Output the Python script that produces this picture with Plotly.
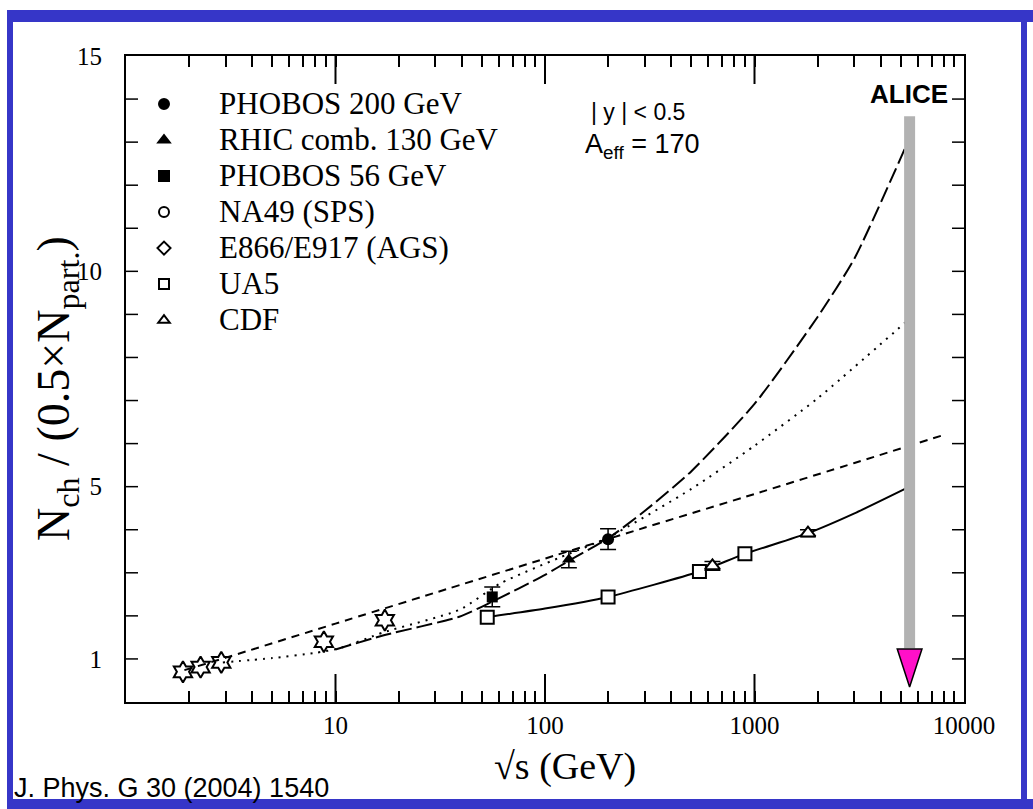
import math
import plotly.graph_objects as go

# ---- measured data -------------------------------------------------------
phobos200_x = [200]
phobos200_y = [3.78]
phobos200_err = [0.24]

rhic130_x = [130]
rhic130_y = [3.31]
rhic130_err = [0.19]

phobos56_x = [56]
phobos56_y = [2.44]
phobos56_err = [0.23]

na49_x = [8.8, 17.2]
na49_y = [1.40, 1.90]

ags_x = [1.87, 2.27, 2.85]
ags_y = [0.70, 0.81, 0.92]

ua5_x = [53, 200, 546, 900]
ua5_y = [1.97, 2.44, 3.03, 3.44]

cdf_x = [630, 1800]
cdf_y = [3.16, 3.92]
cdf_err = [0.10, 0.08]

# ---- extrapolation curves ------------------------------------------------
pp_fit_x = [53, 100, 200, 546, 900, 1800, 3000, 5500]
pp_fit_y = [1.97, 2.17, 2.44, 3.03, 3.44, 3.92, 4.38, 5.0]

log_fit_x = [1.9, 3, 10, 30, 100, 300, 1000, 3000, 8000]
log_fit_y = [0.74, 1.03, 1.82, 2.54, 3.33, 4.05, 4.83, 5.55, 6.2]

sat_fit_x = [2.9, 5, 8, 10.5, 17, 39, 61, 117, 200, 500, 1000, 2000, 5500]
sat_fit_y = [0.92, 1.02, 1.14, 1.25, 1.62, 2.14, 2.75, 3.35, 3.82, 4.95, 5.95, 7.05, 8.9]

pow_fit_x = [10, 17, 39, 56, 100, 130, 200, 300, 500, 1000, 2000, 3000, 5500]
pow_fit_y = [1.22, 1.55, 1.98, 2.33, 2.95, 3.28, 3.8, 4.44, 5.36, 6.92, 8.94, 10.3, 13.1]

alice_energy = 5500
alice_bar_y = [13.6, 1.25]
alice_tip_y = 0.35

x_tick_vals = [10, 100, 1000, 10000]
x_decade_marks = [10, 100, 1000]
x_minor_vals = [m * d for d in (1, 10, 100, 1000) for m in range(2, 10)]
y_tick_vals = [1, 5, 10, 15]
y_mark_vals = list(range(1, 15))

legend_names = ["PHOBOS 200 GeV", "RHIC comb. 130 GeV", "PHOBOS 56 GeV",
                "NA49 (SPS)", "E866/E917 (AGS)", "UA5", "CDF"]
legend_symbols = ["circle", "triangle-up", "square", "circle-open",
                  "diamond-open", "square-open", "triangle-up-open"]

# ---- figure geometry -----------------------------------------------------
W, H = 1033, 809
L, R, T, B = 126, 964, 56, 702
BLUE = "#3636c8"
SERIF = "Liberation Serif"
SANS = "Liberation Sans"
X_RANGE = [0, 4]          # log10 of 1 .. 10000
Y_RANGE = [0, 15]
MAJOR_LEN, MINOR_LEN, Y_LEN = 28, 11, 12


def px_x(p):
    return (p - L) / (R - L)


def px_y(p):
    return (B - p) / (B - T)


def x_frac(v):
    return (math.log10(v) - X_RANGE[0]) / (X_RANGE[1] - X_RANGE[0])


def y_frac(v):
    return (v - Y_RANGE[0]) / (Y_RANGE[1] - Y_RANGE[0])


fig = go.Figure()

line_style = dict(color="black", width=2, shape="spline", smoothing=0.6)
fig.add_trace(go.Scatter(x=pp_fit_x, y=pp_fit_y, mode="lines",
                         line=dict(**line_style), showlegend=False))
fig.add_trace(go.Scatter(x=log_fit_x, y=log_fit_y, mode="lines",
                         line=dict(**line_style, dash="8px,6px"), showlegend=False))
fig.add_trace(go.Scatter(x=sat_fit_x, y=sat_fit_y, mode="lines",
                         line=dict(**line_style, dash="2px,6px"), showlegend=False))
fig.add_trace(go.Scatter(x=pow_fit_x, y=pow_fit_y, mode="lines",
                         line=dict(**line_style, dash="16px,5px"), showlegend=False))

# ALICE energy marker (x2 is the tick overlay sharing the main x range)
fig.add_trace(go.Scatter(x=[alice_energy, alice_energy], y=alice_bar_y, mode="lines",
                         xaxis="x2", line=dict(color="#b2b2b2", width=11),
                         showlegend=False))
fig.add_trace(go.Scatter(x=[alice_energy], y=[alice_tip_y], mode="markers", xaxis="x2",
                         marker=dict(symbol="arrow", angle=180, size=40, color="#ff10c8",
                                     line=dict(color="black", width=1.5)),
                         showlegend=False))


def err(vals, w=16):
    return dict(type="data", array=vals, visible=True, color="black",
                thickness=1.5, width=w / 2)


data_marker_line = dict(color="black", width=2)
point_traces = [
    go.Scatter(x=ags_x, y=ags_y, mode="markers",
               marker=dict(symbol="hexagram-open", size=16, color="black",
                           line=data_marker_line)),
    go.Scatter(x=na49_x, y=na49_y, mode="markers",
               marker=dict(symbol="hexagram-open", size=16, color="black",
                           line=data_marker_line)),
    go.Scatter(x=ua5_x, y=ua5_y, mode="markers",
               marker=dict(symbol="square", size=13, color="white", line=data_marker_line)),
    go.Scatter(x=cdf_x, y=cdf_y, mode="markers", error_y=err(cdf_err),
               marker=dict(symbol="triangle-up", size=13, color="white",
                           line=data_marker_line)),
    go.Scatter(x=phobos56_x, y=phobos56_y, mode="markers", error_y=err(phobos56_err),
               marker=dict(symbol="square", size=11, color="black")),
    go.Scatter(x=rhic130_x, y=rhic130_y, mode="markers", error_y=err(rhic130_err),
               marker=dict(symbol="triangle-up", size=12, color="black")),
    go.Scatter(x=phobos200_x, y=phobos200_y, mode="markers", error_y=err(phobos200_err),
               marker=dict(symbol="circle", size=12, color="black")),
]
for tr in point_traces:
    tr.update(xaxis="x2", showlegend=False)
    fig.add_trace(tr)

# legend entries
for name, sym in zip(legend_names, legend_symbols):
    fig.add_trace(go.Scatter(x=[None], y=[None], mode="markers",
                             name=f'<span style="font-size:31px">{name}</span>',
                             marker=dict(symbol=sym, size=10, color="black",
                                         line=dict(color="black", width=2))))

base = dict(showline=True, linecolor="black", linewidth=2, showgrid=False,
            zeroline=False, tickcolor="black", tickwidth=1.5,
            tickfont=dict(family=SERIF, size=25, color="black"))

fig.update_layout(
    xaxis=dict(base, type="log", range=X_RANGE, tickmode="array", tickvals=x_tick_vals,
               ticktext=[str(v) for v in x_tick_vals], ticks="", mirror=True),
    yaxis=dict(base, range=Y_RANGE, tickmode="array", tickvals=y_tick_vals,
               ticks="", mirror=True, ticklabelstandoff=17),
    xaxis2=dict(base, type="log", range=X_RANGE, overlaying="x", anchor="y",
                side="bottom", tickmode="array",
                tickvals=sorted(x_minor_vals + x_decade_marks),
                ticks="inside", ticklen=MINOR_LEN, mirror="ticks",
                showticklabels=False),
)

# long decade ticks and the y ticks, on both sides of the frame
shapes = []
dy = MAJOR_LEN / (B - T)
for v in x_decade_marks:
    f = x_frac(v)
    for y0, y1 in [(0, dy), (1 - dy, 1)]:
        shapes.append(dict(type="line", xref="paper", yref="paper", x0=f, x1=f,
                           y0=y0, y1=y1, layer="above",
                           line=dict(color="black", width=2)))
dx = Y_LEN / (R - L)
for v in y_mark_vals:
    f = y_frac(v)
    for x0, x1 in [(0, dx), (1 - dx, 1)]:
        shapes.append(dict(type="line", xref="paper", yref="paper", x0=x0, x1=x1,
                           y0=f, y1=f, layer="above",
                           line=dict(color="black", width=1.5)))

# blue page border
for x0, x1, y0, y1 in [(7, 13, 10, 809), (7, 1033, 10, 22), (7, 1033, 799, 809),
                       (1021, 1027, 10, 809)]:
    shapes.append(dict(type="rect", xref="paper", yref="paper", x0=px_x(x0),
                       x1=px_x(x1), y0=px_y(y1), y1=px_y(y0), fillcolor=BLUE,
                       line_width=0, layer="above"))


def note(text, x, y, font, xanchor="center", yanchor="middle", **kw):
    return dict(text=text, x=px_x(x), y=px_y(y), xref="paper", yref="paper",
                xanchor=xanchor, yanchor=yanchor, showarrow=False, font=font, **kw)


annotations = [
    note("√s (GeV)", 565, 766, dict(family=SERIF, size=38, color="black")),
    note("N<sub>ch</sub> / (0.5×N<sub>part.</sub>)", 57, 389,
         dict(family=SERIF, size=46, color="black"), textangle=-90),
    note("| y | < 0.5", 589, 112, dict(family=SANS, size=23, color="black"), xanchor="left"),
    note("A<sub>eff</sub> = 170", 583, 146, dict(family=SANS, size=27, color="black"),
         xanchor="left"),
    note("<b>ALICE</b>", 909, 94, dict(family=SANS, size=26, color="black")),
    note("J. Phys. G 30 (2004) 1540", 12, 805, dict(family=SANS, size=27, color="black"),
         xanchor="left", yanchor="bottom"),
]

fig.update_layout(
    width=W, height=H,
    margin=dict(l=L, r=W - R, t=T, b=H - B),
    paper_bgcolor="white", plot_bgcolor="white",
    annotations=annotations, shapes=shapes,
    legend=dict(x=px_x(109), y=px_y(81), xanchor="left", yanchor="top",
                bgcolor="rgba(0,0,0,0)", itemwidth=100, tracegroupgap=0,
                font=dict(family=SERIF, size=25.4, color="black")),
)

fig.write_html("out.html")
